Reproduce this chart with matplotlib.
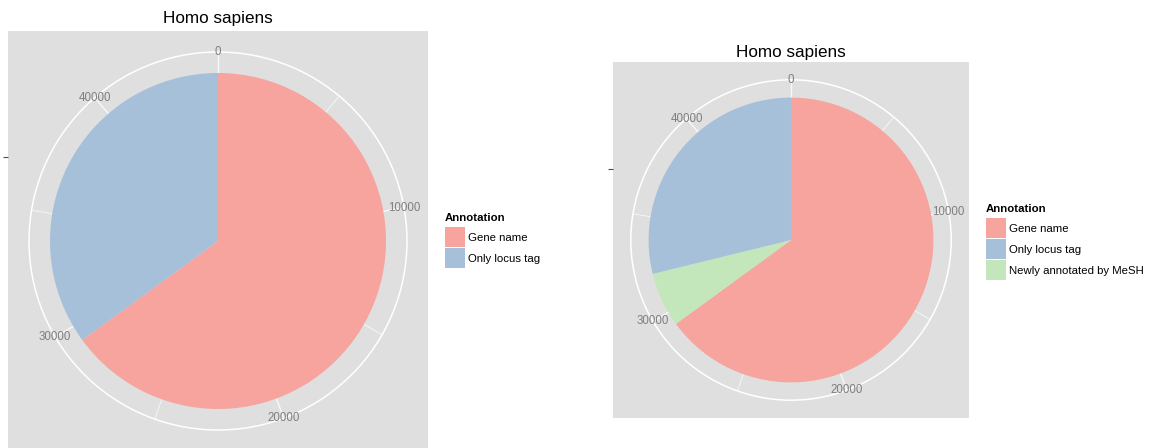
import numpy as np
import matplotlib.pyplot as plt
from matplotlib.patches import Circle

# data (counts of genes per annotation class)
title = "Homo sapiens"
left_labels = ["Gene name", "Only locus tag"]
left_counts = [29300, 15800]
# pie order clockwise from the top
right_labels = ["Gene name", "Newly annotated by MeSH", "Only locus tag"]
right_counts = [29300, 2800, 13000]
legend_order = ["Gene name", "Only locus tag", "Newly annotated by MeSH"]
theta_major = [0, 10000, 20000, 30000, 40000]
theta_minor = [5000, 15000, 25000, 35000]
colors = {"Gene name": "#F7A39E",
          "Only locus tag": "#A7C0DA",
          "Newly annotated by MeSH": "#C3E6BA"}

W, H = 1161, 448
plt.rcParams['font.family'] = ['Liberation Sans', 'DejaVu Sans']
fig = plt.figure(figsize=(W / 100, H / 100), dpi=100)


def polar_pie(box, labels, counts, title_y, legend_xy):
    x0, y0, w, h = box  # pixel box, origin top-left
    ax = fig.add_axes([x0 / W, 1 - (y0 + h) / H, w / W, h / H])
    total = sum(counts)

    wedges, _ = ax.pie(counts, colors=[colors[l] for l in labels],
                       startangle=90, counterclock=False, radius=0.8,
                       wedgeprops=dict(linewidth=0))

    # polar grid: outer circle + spokes (hidden under the pie)
    ax.add_patch(Circle((0, 0), 0.9, fill=False, ec='white', lw=1.1, zorder=0.5))
    for vals, lw in ((theta_major, 1.0), (theta_minor, 0.6)):
        for v in vals:
            a = np.deg2rad(v / total * 360)
            ax.plot([0, 0.9 * np.sin(a)], [0, 0.9 * np.cos(a)],
                    color='white', lw=lw, alpha=0.8, zorder=0.5)
    for v in theta_major:
        a = np.deg2rad(v / total * 360)
        ax.text(0.9 * np.sin(a), 0.9 * np.cos(a), str(v), ha='center',
                va='center', fontsize=8.3, color='#7F7F7F', zorder=3)

    ax.set_xlim(-1, 1)
    ax.set_ylim(-1, 1)
    ax.set_aspect('equal')
    ax.set_frame_on(True)
    ax.set_facecolor('#DFDFDF')
    for s in ax.spines.values():
        s.set_visible(False)
    ax.set_xticks([])
    ax.set_yticks([0.4])
    ax.set_yticklabels([''])
    ax.tick_params(axis='y', length=3.5, width=0.8, color='#4D4D4D')

    fig.text((x0 + w / 2) / W, 1 - title_y / H, title, ha='center',
             va='center', fontsize=12.3)

    handles = [wedges[labels.index(l)] for l in legend_order if l in labels]
    names = [l for l in legend_order if l in labels]
    leg = ax.legend(handles, names, title="Annotation", loc='upper left',
                    bbox_to_anchor=(legend_xy[0] / W, 1 - legend_xy[1] / H),
                    bbox_transform=fig.transFigure, frameon=False,
                    fontsize=8.2, title_fontproperties={'weight': 'bold', 'size': 8.2},
                    handlelength=1.75, handleheight=2.32, handletextpad=0.3,
                    labelspacing=0.1, borderpad=0.3, borderaxespad=0,
                    alignment='left')
    leg._legend_box.sep = 3.0  # a bit more room under the title
    return ax


polar_pie((8, 31, 420, 420), left_labels, left_counts, 19, (441.6, 209.6))
polar_pie((613, 62, 356, 356), right_labels, right_counts, 53, (982.6, 200.6))

fig.savefig('out.png', dpi=100)
